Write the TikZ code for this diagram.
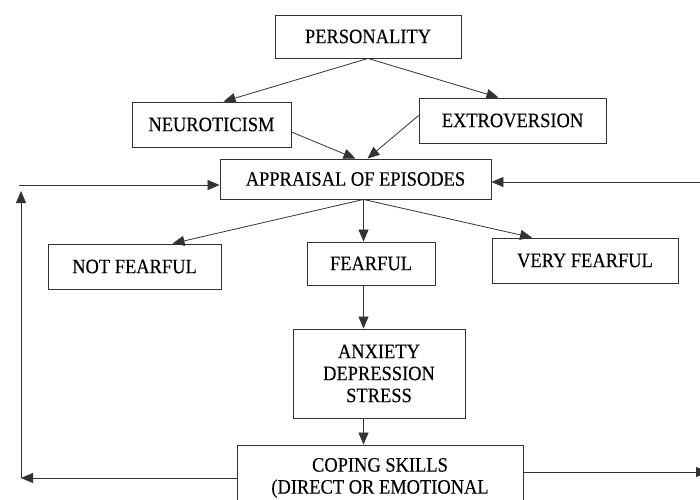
\documentclass[tikz,border=0pt]{standalone}
\usepackage{fontspec}
\setmainfont[FakeStretch=0.9, FakeBold=0.2]{Liberation Serif}
\usetikzlibrary{arrows.meta}
\newcommand{\boxfont}{\fontsize{20.5}{22}\selectfont}

\begin{document}
\begin{tikzpicture}[x=1pt, y=-1pt,
  box/.style={draw=black!80, line width=0.9pt, inner sep=0pt, align=center, font=\boxfont},
  arr/.style={draw=black!80, line width=0.8pt, -{Triangle[length=12pt, width=10pt]}}]
\fill[white] (0,0) rectangle (700,499);
\useasboundingbox (0,0) rectangle (700,499);
\clip (0,0) rectangle (700,499);

\node[box, minimum width=186pt, minimum height=43pt] (personality) at (368,36.5) {PERSONALITY};
\node[box, minimum width=159pt, minimum height=45pt] (neuro) at (211.5,124.5) {NEUROTICISM};
\node[box, minimum width=187pt, minimum height=45pt] (extro) at (512.5,120.5) {EXTROVERSION};
\node[box, minimum width=271pt, minimum height=40pt] (appraisal) at (355.5,179) {APPRAISAL OF EPISODES};
\node[box, minimum width=173pt, minimum height=45pt] (notfear) at (134.5,266.5) {NOT FEARFUL};
\node[box, minimum width=128pt, minimum height=43pt] (fear) at (371,263.5) {FEARFUL};
\node[box, minimum width=186pt, minimum height=45pt] (veryfear) at (585,260.5) {VERY FEARFUL};
\node[box, minimum width=172pt, minimum height=89pt] (anxiety) at (379,373.5) {ANXIETY\\DEPRESSION\\STRESS};
\node[box, minimum width=286pt, minimum height=66pt] (coping) at (380,478) {COPING SKILLS\\(DIRECT OR EMOTIONAL};

% feedback corners
\coordinate (hub) at ([xshift=8pt]appraisal.south);
\coordinate (lbot) at (21,478);
\coordinate (ltop) at (21,191);
\coordinate (lin) at (19,185);
\coordinate (rin) at (700,182);
\coordinate (rout) at (708,472);

\draw[arr] (personality.south) -- ([xshift=12pt]neuro.north);
\draw[arr] (personality.south) -- ([xshift=-14pt]extro.north);
\draw[arr] ([yshift=-7.5pt]neuro.east) -- (appraisal.north);
\draw[arr] ([yshift=5pt]extro.west) -- ([xshift=12pt]appraisal.north);

\draw[arr] (hub) -- ([xshift=38pt]notfear.north);
\draw[arr] (hub) -- (hub |- fear.north);
\draw[arr] (hub) -- ([xshift=-53pt]veryfear.north);
\draw[arr] (fear.south -| hub) -- (anxiety.north -| hub);
\draw[arr] (anxiety.south -| hub) -- (coping.north -| hub);

\draw[arr] (coping.west) -- (lbot);
\draw[arr] (lbot) -- (ltop);
\draw[arr] (lin) -- ([yshift=-6pt]appraisal.west);
\draw[arr] (rin) -- ([yshift=-3pt]appraisal.east);
\draw[arr] ([yshift=6pt]coping.east) -- (rout);
\end{tikzpicture}
\end{document}
